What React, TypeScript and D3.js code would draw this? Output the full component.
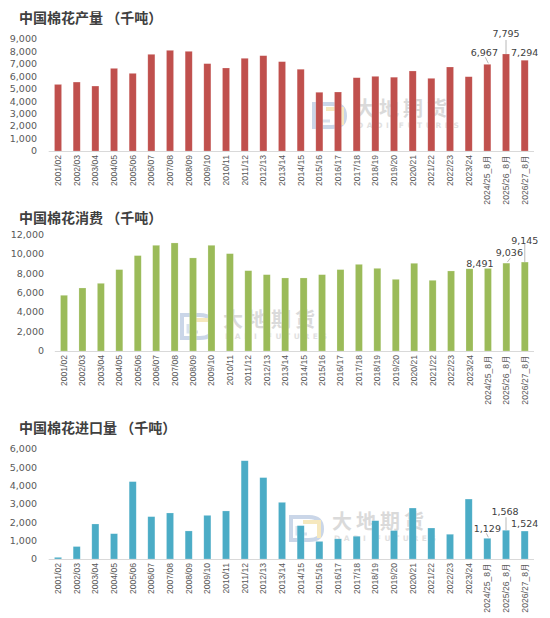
import React from "react";
import * as d3 from "d3";

const categories = [
  "2001/02", "2002/03", "2003/04", "2004/05", "2005/06", "2006/07", "2007/08", "2008/09",
  "2009/10", "2010/11", "2011/12", "2012/13", "2013/14", "2014/15", "2015/16", "2016/17",
  "2017/18", "2018/19", "2019/20", "2020/21", "2021/22", "2022/23", "2023/24",
  "2024/25_8月", "2025/26_8月", "2026/27_8月",
];

const production = [
  5350, 5540, 5220, 6640, 6240, 7770, 8090, 8010, 7020, 6670, 7450, 7660, 7180,
  6570, 4720, 4740, 5890, 6000, 5930, 6430, 5840, 6750, 5970, 6967, 7795, 7294,
];
const consumption = [
  5730, 6480, 6960, 8370, 9810, 10870, 11110, 9570, 10870, 10010, 8260, 7850, 7510,
  7510, 7850, 8370, 8910, 8500, 7370, 9020, 7270, 8230, 8450, 8491, 9036, 9145,
];
const imports = [
  90, 680, 1910, 1380, 4220, 2310, 2510, 1530, 2380, 2620, 5360, 4440, 3090,
  1820, 960, 1100, 1240, 2090, 1550, 2780, 1690, 1350, 3270, 1129, 1568, 1524,
];

const titles = ["中国棉花产量 （千吨）", "中国棉花消费 （千吨）", "中国棉花进口量 （千吨）"];
const prodTicks = [0, 1000, 2000, 3000, 4000, 5000, 6000, 7000, 8000, 9000];
const consTicks = [0, 2000, 4000, 6000, 8000, 10000, 12000];
const impTicks = [0, 1000, 2000, 3000, 4000, 5000, 6000];

type LabelSpec = { idx: number; dx: number; dy: number; leader?: [number, number, number, number] };

type PanelProps = {
  title: string;
  titleY: number;
  values: number[];
  ticks: number[];
  color: string;
  x0: number;
  x1: number;
  yBase: number;
  yTop: number;
  tickRight: number;
  labels: LabelSpec[];
  wm: [number, number];
};

const fmt = d3.format(",");
const FONT = "'DejaVu Sans', Verdana, sans-serif";
const CAT_FONT = "'Liberation Sans', Arial, sans-serif";

function Watermark({ x, y }: { x: number; y: number }) {
  return (
    <g transform={`translate(${x},${y})`} opacity={0.55}>
      <path d="M2,3 L20,3 Q33,3 33,15 Q33,26 20,26 L2,26 Z" fill="none" stroke="#9fb6d6" strokeWidth={4} />
      <path d="M14,8 L30,8 L30,24" fill="none" stroke="#f0d68a" strokeWidth={4} />
      <path d="M8,12 L8,20 L18,20" fill="none" stroke="#b9c9e0" strokeWidth={3} />
      <text x={43} y={15} fontFamily="'Noto Sans CJK SC', sans-serif" fontWeight={700} fontSize={20} fill="#bdbdbd" letterSpacing={4}>
        大地期货
      </text>
      <text x={45} y={27} fontFamily="'DejaVu Sans', sans-serif" fontWeight={700} fontSize={7.5} fill="#c8c8c8" letterSpacing={3.6}>
        DADI FUTURES
      </text>
    </g>
  );
}

function Panel(p: PanelProps) {
  const x = d3.scaleBand<string>().domain(categories).range([p.x0, p.x1]).paddingInner(0.62).paddingOuter(0.31);
  const yMax = p.ticks[p.ticks.length - 1];
  const y = d3.scaleLinear().domain([0, yMax]).range([p.yBase, p.yTop]);
  const bw = x.bandwidth();
  return (
    <g>
      <text x={19} y={p.titleY + 5} fontFamily="'Noto Sans CJK SC', sans-serif" fontWeight={700} fontSize={14} fill="#404040">
        {p.title}
      </text>
      <Watermark x={p.wm[0]} y={p.wm[1]} />
      {p.ticks.map((t) => (
        <text key={t} x={p.tickRight} y={y(t)} dy="0.35em" textAnchor="end" fontFamily={FONT} fontSize={9.5} fill="#595959">
          {fmt(t)}
        </text>
      ))}
      {p.values.map((v, i) => (
        <rect key={i} x={x(categories[i])!} y={y(v)} width={bw} height={p.yBase - y(v)} fill={p.color} stroke="#ffffff" strokeOpacity={0.35} strokeWidth={0.6} />
      ))}
      <line x1={p.x0} x2={p.x1} y1={p.yBase + 0.5} y2={p.yBase + 0.5} stroke="#d9d9d9" strokeWidth={1} />
      {categories.map((c) => {
        const cx = x(c)! + bw / 2;
        const ty = p.yBase + 4;
        return (
          <text key={c} transform={`translate(${cx},${ty}) rotate(-90)`} dy="0.35em" textAnchor="end" fontFamily={CAT_FONT} fontSize={8.6} fill="#595959">
            {c}
          </text>
        );
      })}
      {p.labels.map((l) => {
        const v = p.values[l.idx];
        const cx = x(categories[l.idx])! + bw / 2;
        const ty = y(v);
        return (
          <g key={l.idx}>
            {l.leader && (
              <line x1={cx + l.leader[0]} y1={ty + l.leader[1]} x2={cx + l.leader[2]} y2={ty + l.leader[3]} stroke="#a6a6a6" strokeWidth={0.8} />
            )}
            <text x={cx + l.dx} y={ty + l.dy} dy="0.35em" textAnchor="middle" fontFamily={FONT} fontSize={9.5} fill="#404040">
              {fmt(v)}
            </text>
          </g>
        );
      })}
    </g>
  );
}

export default function App() {
  return (
    <div style={{ position: "fixed", left: 0, top: 0, width: 550, height: 618, background: "#fff" }}>
      <svg width={550} height={618} viewBox="0 0 550 618">
        <rect width={550} height={618} fill="#ffffff" />
        <Panel
          title={titles[0]}
          titleY={18}
          values={production}
          ticks={prodTicks}
          color="#c0504d"
          x0={48.7}
          x1={534}
          yBase={151}
          yTop={39}
          tickRight={37}
          wm={[312, 101]}
          labels={[
            { idx: 23, dx: -3, dy: -12, leader: [-2, -7, 1, -1] },
            { idx: 24, dx: 0, dy: -20, leader: [0, -14, 0, 0] },
            { idx: 25, dx: 0, dy: -8 },
          ]}
        />
        <Panel
          title={titles[1]}
          titleY={218}
          values={consumption}
          ticks={consTicks}
          color="#9bbb59"
          x0={54.8}
          x1={534}
          yBase={351}
          yTop={234.3}
          tickRight={44}
          wm={[180, 312]}
          labels={[
            { idx: 23, dx: -8, dy: -5 },
            { idx: 24, dx: 3, dy: -10, leader: [4, -5, 1, -1] },
            { idx: 25, dx: 0, dy: -21, leader: [0, -18, 0, 0] },
          ]}
        />
        <Panel
          title={titles[2]}
          titleY={428}
          values={imports}
          ticks={impTicks}
          color="#4bacc6"
          x0={48.7}
          x1={534}
          yBase={559}
          yTop={449}
          tickRight={37}
          wm={[289, 514]}
          labels={[
            { idx: 23, dx: 0, dy: -10, leader: [-1, -5, 1, -1] },
            { idx: 24, dx: -1, dy: -19, leader: [0, -13, 0, 0] },
            { idx: 25, dx: 0, dy: -7 },
          ]}
        />
      </svg>
    </div>
  );
}
